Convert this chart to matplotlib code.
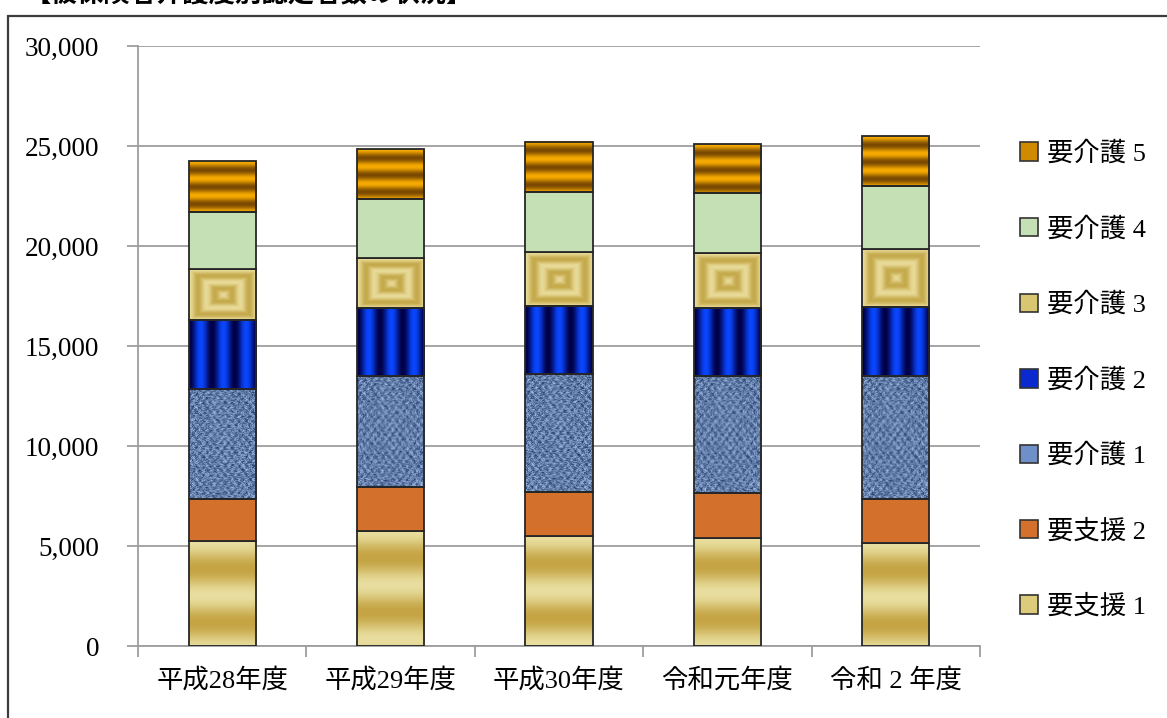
import numpy as np
import matplotlib.pyplot as plt
import matplotlib.colors as mcolors
from matplotlib.patches import Patch, Rectangle
from matplotlib.ticker import FuncFormatter, FixedLocator

years = ['平成28年度', '平成29年度', '平成30年度', '令和元年度', '令和 2 年度']
series_names = ['要支援 1', '要支援 2', '要介護 1', '要介護 2', '要介護 3', '要介護 4', '要介護 5']

shien1 = [5250, 5770, 5500, 5400, 5130]
shien2 = [2100, 2160, 2200, 2250, 2200]
kaigo1 = [5500, 5570, 5900, 5870, 6170]
kaigo2 = [3450, 3420, 3420, 3400, 3430]
kaigo3 = [2550, 2500, 2700, 2710, 2920]
kaigo4 = [2850, 2930, 2960, 3040, 3170]
kaigo5 = [2550, 2500, 2520, 2430, 2480]

values = [shien1, shien2, kaigo1, kaigo2, kaigo3, kaigo4, kaigo5]
kinds = ['hband', None, 'weave', 'vstripe', 'squares', None, 'hstripe']
base_colors = ['#dccb7a', '#d2702c', '#6f8fc8', '#0a2ad0', '#d8c670', '#c5e0b4', '#d08a00']

plt.rcParams['font.family'] = ['Liberation Serif', 'Noto Sans CJK JP']


def lerp(c0, c1, t):
    c0 = np.array(mcolors.to_rgb(c0))
    c1 = np.array(mcolors.to_rgb(c1))
    return np.clip(c0 + (c1 - c0) * t[..., None], 0, 1)


def texture(kind, w, h):
    # fill patterns imitating the office-style picture fills
    yy, xx = np.mgrid[0:h, 0:w].astype(float)
    if kind == 'hband':
        t = 0.5 + 0.5 * np.cos(2 * np.pi * yy / 54)
        return lerp('#c4a443', '#e9de9f', t)
    if kind == 'hstripe':
        t = 0.5 + 0.5 * np.cos(2 * np.pi * yy / 17)
        return lerp('#7a4a00', '#f7aa00', t)
    if kind == 'vstripe':
        t = 0.5 - 0.5 * np.cos(2 * np.pi * xx / (w / 3))
        return lerp('#000046', '#0a46ff', t)
    if kind == 'squares':
        d = np.maximum(np.abs(xx - w / 2) / (w / 2), np.abs(yy - h / 2) / (h / 2))
        t = 0.5 + 0.5 * np.cos(2 * np.pi * 2 * d)
        return lerp('#c5aa4c', '#e8da98', t)
    if kind == 'weave':
        n = np.modf(np.abs(np.sin(xx * 12.9898 + yy * 78.233) * 43758.5453))[0]
        w_ = 0.5 + 0.35 * np.cos(2 * np.pi * xx / 7) * np.cos(2 * np.pi * yy / 9)
        t = 0.5 * n + 0.5 * w_
        return lerp('#10285a', '#b8d4fa', t)


fig = plt.figure(figsize=(11.67, 7.18), dpi=100)
ax = fig.add_axes([138 / 1167, 72 / 718, 842 / 1167, 600 / 718])

x = np.arange(len(years))
width = 0.4
ax.set_xlim(-0.5, len(years) - 0.5)
ax.set_ylim(0, 30000)

px_per_x = 842 / len(years)
px_per_y = 600 / 30000

bottoms = np.zeros(len(years))
for vals, kind, col in zip(values, kinds, base_colors):
    vals = np.array(vals, dtype=float)
    if kind is None:
        ax.bar(x, vals, width, bottom=bottoms, color=col, edgecolor='#262626',
               linewidth=1.3, zorder=3)
    else:
        for xi, b, v in zip(x, bottoms, vals):
            w_px = int(round(width * px_per_x))
            h_px = max(int(round(v * px_per_y)), 2)
            ax.imshow(texture(kind, w_px, h_px), extent=(xi - width / 2, xi + width / 2, b, b + v),
                      aspect='auto', interpolation='bilinear', zorder=2)
        ax.bar(x, vals, width, bottom=bottoms, facecolor='none', edgecolor='#262626',
               linewidth=1.3, zorder=3)
    bottoms += vals

ax.set_xlim(-0.5, len(years) - 0.5)
ax.set_ylim(0, 30000)

ax.yaxis.set_major_locator(FixedLocator(range(0, 30001, 5000)))
ax.yaxis.set_major_formatter(FuncFormatter(lambda v, p: f'{int(v):,}'))
ax.grid(axis='y', color='#9e9e9e', linewidth=1.3, zorder=0)
ax.set_axisbelow(True)

ax.set_xticks(x)
ax.set_xticklabels(years)
ax.set_xticks(np.arange(-0.5, len(years)), minor=True)
ax.tick_params(axis='x', which='major', length=0, pad=16, labelsize=19)
ax.tick_params(axis='x', which='minor', length=8, width=1.3, color='#9e9e9e')
ax.tick_params(axis='y', length=8, width=1.3, color='#9e9e9e', pad=20, labelsize=19.5)

for s in ['top', 'right']:
    ax.spines[s].set_visible(False)
for s in ['left', 'bottom']:
    ax.spines[s].set_color('#9e9e9e')
    ax.spines[s].set_linewidth(1.3)

handles = [Patch(facecolor=c, edgecolor='#333333', linewidth=1.2) for c in base_colors]
fig.legend(handles[::-1], series_names[::-1], loc='center left',
           bbox_to_anchor=(996 / 1167, 1 - 380 / 718), frameon=False, fontsize=19,
           handlelength=0.7, handleheight=0.7, handletextpad=0.35, labelspacing=1.93)

# outer frame of the original sheet
fig.add_artist(Rectangle((8 / 1167, -0.05), 1.2, 1 - 16 / 718 + 0.05, transform=fig.transFigure,
                         fill=False, edgecolor='#3c3c3c', linewidth=1.6, clip_on=False))
fig.text(25 / 1167, 1 + 5 / 718, '【被保険者介護度別認定者数の状況】', fontsize=19,
         fontweight='bold', va='center', family='Noto Sans CJK JP')

fig.savefig('out.png', dpi=100)
